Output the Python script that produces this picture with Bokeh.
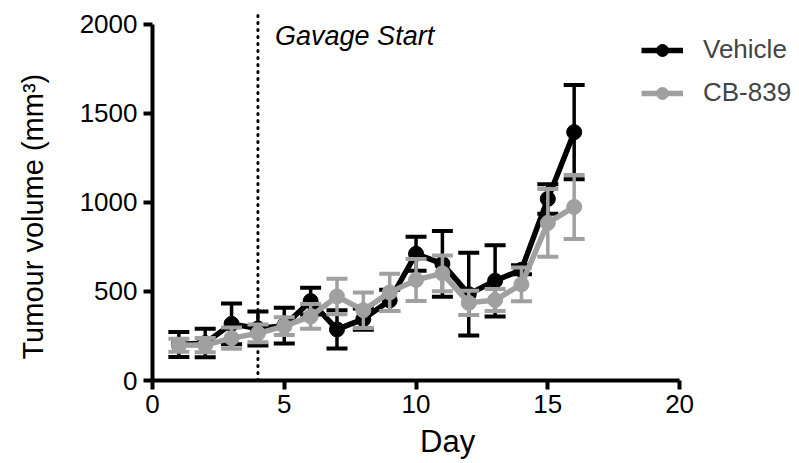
from bokeh.plotting import figure
from bokeh.models import Legend, LegendItem, Label, FixedTicker
from bokeh.embed import file_html
from bokeh.resources import INLINE

days = [1, 2, 3, 4, 5, 6, 7, 8, 9, 10, 11, 12, 13, 14, 15, 16]
vehicle_mean = [202, 210, 318, 292, 308, 446, 287, 345, 450, 712, 655, 485, 560, 622, 1020, 1395]
vehicle_err = [70, 80, 114, 95, 100, 75, 107, 60, 60, 95, 185, 232, 200, 25, 83, 265]
cb_mean = [198, 199, 238, 265, 305, 360, 472, 395, 495, 565, 602, 436, 452, 540, 885, 975]
cb_err = [36, 40, 60, 50, 50, 70, 100, 100, 105, 118, 100, 68, 62, 95, 190, 180]

x_ticks = [0, 5, 10, 15, 20]
y_ticks = [0, 500, 1000, 1500, 2000]
gavage_day = 4

FONT = "Liberation Sans"
BLACK = "#000000"
GREY = "#a0a0a0"
NBSP = "\u00a0"

p = figure(frame_width=642, frame_height=376, min_border_left=152, min_border_top=4,
           min_border_right=3, min_border_bottom=78,
           x_range=(0, 24.36), y_range=(0, 2112),
           output_backend="svg", toolbar_location=None)
p.outline_line_color = None
p.grid.visible = False
p.background_fill_color = "white"

for ax in (p.xaxis[0], p.yaxis[0]):
    ax.axis_line_width = 4
    ax.major_tick_line_width = 4
    ax.major_tick_out = 9
    ax.major_tick_in = 0
    ax.minor_tick_line_color = None
    ax.major_label_text_font = FONT
    ax.major_label_text_font_size = "26px"
    ax.major_label_text_color = "black"
    ax.axis_label_text_font = FONT
    ax.axis_label_text_font_style = "normal"
    ax.axis_label_text_color = "black"

p.xaxis.bounds = (0, 20)
p.yaxis.bounds = (0, 2000)
p.xaxis.ticker = FixedTicker(ticks=x_ticks)
p.yaxis.ticker = FixedTicker(ticks=y_ticks)
# trailing no-break spaces re-centre the titles on the axis span (0-20, 0-2000)
p.xaxis.axis_label = "Day" + NBSP * 6
p.yaxis.axis_label = "Tumour volume (mm³)" + NBSP * 6
p.xaxis.axis_label_text_font_size = "31px"
p.yaxis.axis_label_text_font_size = "29px"
p.xaxis.major_label_standoff = 5
p.yaxis.major_label_standoff = 6
p.xaxis.axis_label_standoff = 8
p.yaxis.axis_label_standoff = 28

# Gavage start line
p.segment(x0=[gavage_day], y0=[0], x1=[gavage_day], y1=[2070], line_color="black",
          line_width=3, line_dash="1 6", line_cap="round")
p.add_layout(Label(x=gavage_day + 0.65, y=1935, text="Gavage Start", text_font=FONT,
                   text_font_size="27px", text_font_style="italic",
                   text_baseline="alphabetic", text_color="black"))


def series(mean, err, color):
    upper = [m + e for m, e in zip(mean, err)]
    lower = [m - e for m, e in zip(mean, err)]
    p.segment(x0=days, y0=lower, x1=days, y1=upper, line_color=color, line_width=3.5)
    p.scatter(x=days, y=upper, marker="dash", size=21, line_color=color, line_width=4)
    p.scatter(x=days, y=lower, marker="dash", size=21, line_color=color, line_width=4)
    ln = p.line(x=days, y=mean, line_color=color, line_width=5.5)
    mk = p.scatter(x=days, y=mean, marker="circle", size=15, fill_color=color, line_color=color)
    return ln, mk


v_line, v_mk = series(vehicle_mean, vehicle_err, BLACK)
c_line, c_mk = series(cb_mean, cb_err, GREY)

legend = Legend(items=[LegendItem(label="Vehicle", renderers=[v_line, v_mk]),
                       LegendItem(label="CB-839", renderers=[c_line, c_mk])],
                location=(489, 272), border_line_color=None, background_fill_alpha=0,
                padding=0, margin=0, spacing=12, glyph_width=42, glyph_height=30,
                label_standoff=20, label_text_font=FONT, label_text_font_size="26px",
                label_height=30)
p.add_layout(legend)

open("out.html", "w").write(file_html(p, INLINE))
